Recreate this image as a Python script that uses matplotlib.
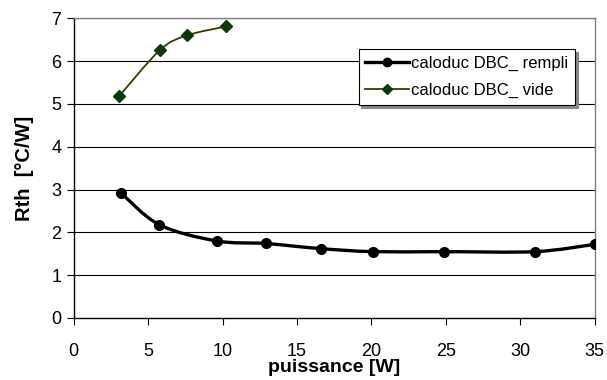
import numpy as np
import matplotlib
matplotlib.use('Agg')
import matplotlib.pyplot as plt
from matplotlib.path import Path
from matplotlib.patches import PathPatch

plt.rcParams['font.family'] = ['Liberation Sans', 'DejaVu Sans']

# --- data ---
p_rempli = [3.15, 5.75, 9.6, 12.9, 16.6, 20.1, 24.9, 31.0, 35.0]
rth_rempli = [2.93, 2.18, 1.80, 1.74, 1.62, 1.55, 1.55, 1.55, 1.72]

p_vide = [3.05, 5.8, 7.6, 10.25]
rth_vide = [5.18, 6.26, 6.60, 6.81]

x_ticks = [0, 5, 10, 15, 20, 25, 30, 35]
y_ticks = [0, 1, 2, 3, 4, 5, 6, 7]


def smooth_path(xs, ys):
    # Excel-like smoothed line: Catmull-Rom as cubic bezier segments
    pts = np.column_stack([xs, ys]).astype(float)
    n = len(pts)
    verts = [pts[0]]
    codes = [Path.MOVETO]
    for i in range(n - 1):
        p0 = pts[i - 1] if i > 0 else pts[i]
        p1 = pts[i]
        p2 = pts[i + 1]
        p3 = pts[i + 2] if i + 2 < n else pts[i + 1]
        c1 = p1 + (p2 - p0) / 6.0
        c2 = p2 - (p3 - p1) / 6.0
        verts += [c1, c2, p2]
        codes += [Path.CURVE4] * 3
    return Path(verts, codes)


fig = plt.figure(figsize=(6.07, 3.8), dpi=100)
ax = fig.add_axes([0.1214, 0.1632, 0.8582, 0.7886])

ax.set_xlim(0, 35)
ax.set_ylim(0, 7)

# gridlines
for yv in y_ticks[1:]:
    ax.axhline(yv, color='black', lw=0.8, zorder=1)

# series
c_rempli = 'black'
c_vide_line = '#3a3a00'
c_vide_mark = '#0a3a0a'

ax.add_patch(PathPatch(smooth_path(p_rempli, rth_rempli), fill=False,
                       edgecolor=c_rempli, lw=2.4, zorder=3, capstyle='round'))
ax.plot(p_rempli, rth_rempli, ls='none', marker='o', ms=7, color=c_rempli, zorder=4)

ax.add_patch(PathPatch(smooth_path(p_vide, rth_vide), fill=False,
                       edgecolor=c_vide_line, lw=1.3, zorder=3))
ax.plot(p_vide, rth_vide, ls='none', marker='D', ms=6, color=c_vide_mark, zorder=4)

# legend proxies
h1, = ax.plot([], [], color=c_rempli, lw=2.4, marker='o', ms=6,
              label='caloduc DBC_ rempli')
h2, = ax.plot([], [], color=c_vide_line, lw=1.3, marker='D', ms=5,
              mfc=c_vide_mark, mec=c_vide_mark, label='caloduc DBC_ vide')
leg = ax.legend(handles=[h1, h2], loc='upper right', bbox_to_anchor=(0.962, 0.898),
                fontsize=12, frameon=True, fancybox=False, handlelength=2.6,
                handletextpad=0.15, labelspacing=0.75, borderpad=0.4,
                borderaxespad=0, shadow={'color': '#888888', 'alpha': 1.0})
leg.get_frame().set_edgecolor('black')
leg.get_frame().set_linewidth(0.8)

# axes styling
ax.set_xticks(x_ticks)
ax.set_yticks(y_ticks)
ax.tick_params(axis='both', direction='out', length=5, width=0.8,
               labelsize=13, colors='black')
ax.tick_params(axis='x', pad=13)
ax.tick_params(axis='y', pad=4)
for side in ['left', 'bottom']:
    ax.spines[side].set_color('black')
    ax.spines[side].set_linewidth(1.0)
for side in ['top', 'right']:
    ax.spines[side].set_color('#808080')
    ax.spines[side].set_linewidth(1.0)

ax.set_xlabel('puissance [W]', fontsize=14, fontweight='bold', labelpad=-1)
ax.set_ylabel('Rth  [°C/W]', fontsize=14.5, fontweight='bold', labelpad=12)

fig.savefig('out.png', dpi=100)
